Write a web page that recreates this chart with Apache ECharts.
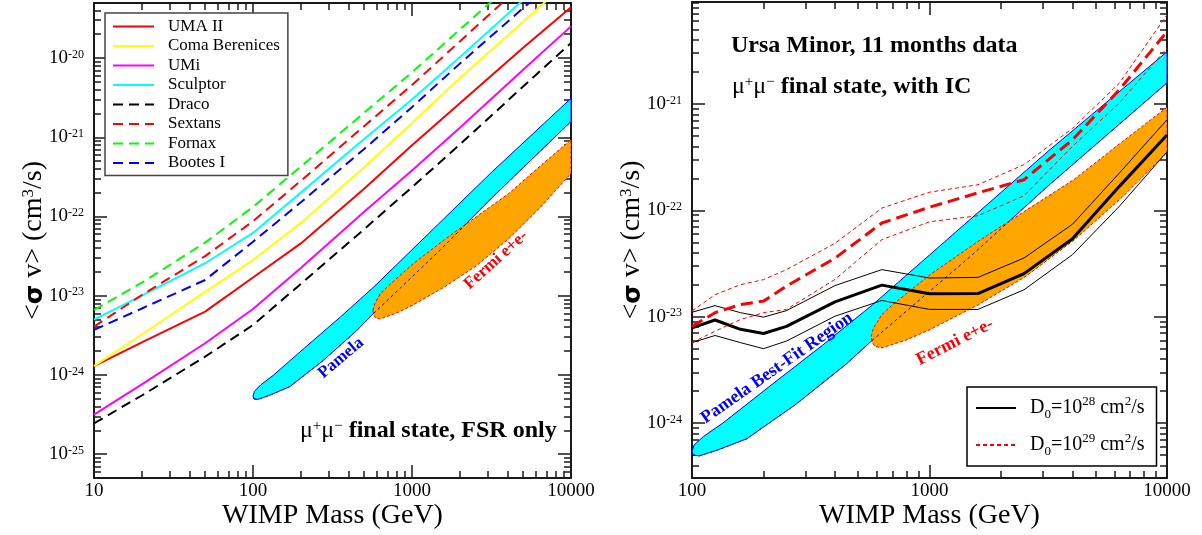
<!DOCTYPE html>
<html>
<head>
<meta charset="utf-8">
<title>WIMP annihilation limits</title>
<script src="https://cdn.jsdelivr.net/npm/echarts@6/dist/echarts.min.js"></script>
<style>
  html, body { margin: 0; padding: 0; background: #fff; }
  #chart { width: 1202px; height: 535px; }
</style>
</head>
<body>
<div id="chart"></div>
<script>
// ---- left panel: mu+mu- FSR only limits, <sigma v> in cm^3/s
var massL = [10, 20, 50, 100, 200, 500, 1000, 2000, 5000, 10000];
var umaII    = [1.29e-24, 2.57e-24, 6.3e-24, 1.70e-23, 4.57e-23, 2.24e-22, 7.9e-22, 2.69e-21, 1.35e-20, 4.37e-20];
var comaBer  = [1.29e-24, 3.24e-24, 1.12e-23, 2.82e-23, 8.3e-23, 4.17e-22, 1.51e-21, 5.6e-21, 2.88e-20, 1.0e-19];
var umi      = [3.16e-25, 7.6e-25, 2.51e-24, 6.8e-24, 2.24e-23, 1.15e-22, 3.8e-22, 1.32e-21, 7.1e-21, 2.51e-20];
var sculptor = [5.0e-24, 1.0e-23, 2.57e-23, 6.2e-23, 2.0e-22, 9.5e-22, 3.0e-21, 1.02e-20, 5.4e-20, 1.8e-19];
var draco    = [2.45e-25, 5.5e-25, 1.7e-24, 4.27e-24, 1.41e-23, 6.9e-23, 2.34e-22, 8.1e-22, 4.37e-21, 1.55e-20];
var sextans  = [4.07e-24, 1.02e-23, 3.16e-23, 8.7e-23, 2.82e-22, 1.38e-21, 4.57e-21, 1.62e-20, 8.7e-20, 3.2e-19];
var fornax   = [6.6e-24, 1.46e-23, 4.68e-23, 1.32e-22, 4.27e-22, 2.04e-21, 6.6e-21, 2.29e-20, 1.17e-19, 4.0e-19];
var bootesI  = [3.7e-24, 6.9e-24, 1.58e-23, 4.8e-23, 1.51e-22, 7.1e-22, 2.4e-21, 8.5e-21, 4.27e-20, 1.45e-19];

// ---- right panel: Ursa Minor, with IC
var massR = [100, 125, 160, 200, 250, 400, 630, 1000, 1600, 2500, 4000, 6300, 10000];
var d28   = [7.85e-24, 9.3e-24, 7.6e-24, 6.95e-24, 8.1e-24, 1.38e-23, 1.98e-23, 1.64e-23, 1.65e-23, 2.54e-23, 5.4e-23, 1.68e-22, 5.1e-22];
var d28Hi = [1.10e-23, 1.27e-23, 1.09e-23, 9.9e-24, 1.14e-23, 1.96e-23, 2.77e-23, 2.31e-23, 2.34e-23, 3.56e-23, 7.4e-23, 2.24e-22, 7.1e-22];
var d28Lo = [5.7e-24, 6.65e-24, 5.7e-24, 5.0e-24, 5.9e-24, 1.01e-23, 1.42e-23, 1.17e-23, 1.17e-23, 1.79e-23, 3.83e-23, 1.09e-22, 3.55e-22];
var d29   = [8.1e-24, 1.09e-23, 1.30e-23, 1.40e-23, 1.94e-23, 3.55e-23, 7.6e-23, 1.07e-22, 1.46e-22, 1.94e-22, 4.6e-22, 1.36e-21, 4.8e-21];
var d29Hi = [1.13e-23, 1.61e-23, 2.0e-23, 2.23e-23, 2.77e-23, 4.9e-23, 1.05e-22, 1.48e-22, 1.74e-22, 2.69e-22, 5.9e-22, 1.57e-21, 6.9e-21];
var d29Lo = [5.7e-24, 7.3e-24, 9.4e-24, 1.09e-23, 1.17e-23, 2.24e-23, 5.3e-23, 7.8e-23, 8.9e-23, 1.37e-22, 4.0e-22, 1.02e-21, 3.36e-21];

// ---- regions [mass, <sigma v>], edges listed left to right
var pamelaUpper = [[100, 5.4e-25], [102, 6.2e-25], [112, 7.5e-25], [135, 1.0e-24], [219, 2.34e-24], [355, 5.4e-24], [575, 1.29e-23], [1000, 3.8e-23], [3160, 3.6e-22], [10000, 3.1e-21]];
var pamelaLower = [[101, 5.0e-25], [107, 4.9e-25], [126, 5.5e-25], [170, 7.1e-25], [275, 1.51e-24], [447, 3.6e-24], [562, 5.75e-24], [1510, 3.8e-23], [3160, 1.7e-22], [10000, 1.58e-21]];
var fermiUpper = [[568, 6.5e-24], [582, 7.9e-24], [631, 1.05e-23], [697, 1.29e-23], [1010, 2.5e-23], [1600, 5.1e-23], [2550, 1.0e-22], [4060, 1.95e-22], [6460, 4.4e-22], [10000, 9.3e-22]];
var fermiLower = [[575, 5.7e-24], [589, 5.25e-24], [631, 5.1e-24], [794, 6.0e-24], [1010, 7.6e-24], [1600, 1.29e-23], [2550, 2.4e-23], [4060, 5.25e-23], [6460, 1.32e-22], [10000, 3.5e-22]];

// ---- axes
var xRangeL = [10, 10000], yRangeL = [5e-26, 4.95e-20];
var xRangeR = [100, 10000], yRangeR = [3.04e-25, 9.1e-21];
var xTicksL = [10, 100, 1000, 10000];
var yTicksL = [1e-25, 1e-24, 1e-23, 1e-22, 1e-21, 1e-20];
var xTicksR = [100, 1000, 10000];
var yTicksR = [1e-24, 1e-23, 1e-22, 1e-21];

var lg = Math.log10;
var serif = 'Liberation Serif';
var INK = '#1a1a1a';

function pts(mass, vals) {
  return mass.map(function (m, i) { return [lg(m), lg(vals[i])]; });
}
function pairs(list) {
  return list.map(function (p) { return [lg(p[0]), lg(p[1])]; });
}
function minorTicks(lo, hi) {
  var out = [];
  for (var n = Math.floor(lo) - 1; n <= Math.ceil(hi); n++) {
    for (var k = 2; k <= 9; k++) {
      var v = n + lg(k);
      if (v > lo && v < hi) out.push(v);
    }
  }
  return out;
}

var yNameRich = {
  b: { fontSize: 28, lineHeight: 28, verticalAlign: 'bottom', fontFamily: serif },
  g: { fontSize: 25, lineHeight: 28, verticalAlign: 'bottom', fontFamily: 'DejaVu Sans', fontWeight: 'bold' },
  p: { fontSize: 17, lineHeight: 17, padding: [0, 0, 28, 0], verticalAlign: 'top', fontFamily: serif }
};
var yLabRich = {
  b: { fontSize: 19, lineHeight: 19, verticalAlign: 'bottom', fontFamily: serif, color: '#000' },
  s: { fontSize: 12, lineHeight: 14, padding: [0, 0, 13, 0], verticalAlign: 'top', fontFamily: serif, color: '#000' }
};

// four axes per dimension: main side major+minor, opposite side major+minor
function axisSet(dim, gi, range, majors) {
  var lo = lg(range[0]), hi = lg(range[1]);
  var maj = majors.map(lg), mnr = minorTicks(lo, hi);
  var sides = dim === 'x' ? ['bottom', 'top'] : ['left', 'right'];
  var out = [];
  sides.forEach(function (pos, s) {
    [maj, mnr].forEach(function (vals, m) {
      var main = s === 0 && m === 0;
      var ax = {
        type: 'value', gridIndex: gi, position: pos, min: lo, max: hi,
        axisLine: { show: m === 0, onZero: false, lineStyle: { color: INK, width: 2 } },
        axisTick: { show: true, inside: true, customValues: vals, length: m === 0 ? 13 : 7,
          lineStyle: { color: INK, width: 1.5 } },
        axisLabel: { show: false },
        splitLine: { show: false }
      };
      if (main && dim === 'x') {
        ax.axisLabel = { show: true, customValues: maj, margin: 4, fontSize: 19, fontFamily: serif, color: '#000',
          formatter: function (v) { return String(Math.round(Math.pow(10, v))); } };
        ax.name = 'WIMP Mass (GeV)';
        ax.nameLocation = 'middle';
        ax.nameGap = 24;
        ax.nameMoveOverlap = false;
        ax.nameTextStyle = { fontSize: 28, fontFamily: serif, color: '#000' };
      }
      if (main && dim === 'y') {
        ax.axisLabel = { show: true, customValues: maj, margin: 10, rich: yLabRich,
          formatter: function (v) { return '{b|10}{s|' + Math.round(v) + '}'; } };
        ax.name = '{b|<}{g|σ}{b| v> (cm}{p|3}{b|/s)}';
        ax.nameLocation = 'middle';
        ax.nameRotate = 90;
        ax.nameGap = 46;
        ax.nameMoveOverlap = false;
        ax.nameTextStyle = { color: '#000', rich: yNameRich };
      }
      out.push(ax);
    });
  });
  return out;
}

function lineSeries(name, gi, mass, vals, color, width, dash, z) {
  return {
    type: 'line', name: name, xAxisIndex: 4 * gi, yAxisIndex: 4 * gi,
    data: pts(mass, vals), symbol: 'none', silent: true, z: z || 3,
    lineStyle: { color: color, width: width, type: dash || 'solid' },
    itemStyle: { color: color }
  };
}

function region(name, gi, upper, lower, fill, stroke, dash) {
  var ring = pairs(upper).concat(pairs(lower).reverse());
  return {
    type: 'custom', name: name, xAxisIndex: 4 * gi, yAxisIndex: 4 * gi,
    silent: true, z: 1, clip: true, data: [ring[0]],
    renderItem: function (params, api) {
      return {
        type: 'polygon',
        shape: { points: ring.map(function (p) { return api.coord(p); }) },
        style: { fill: fill, stroke: stroke, lineWidth: 1, lineDash: dash || null }
      };
    }
  };
}

var dash = [10, 6];
var series = [];
[0, 1].forEach(function (gi) {
  series.push(region('Pamela', gi, pamelaUpper, pamelaLower, '#00ffff', '#0000ff'));
  series.push(region('Fermi', gi, fermiUpper, fermiLower, '#ffa500', '#ff0000', [3, 2]));
  series.push(lineSeries('pamela edge', gi, pamelaLower.map(function (p) { return p[0]; }),
    pamelaLower.map(function (p) { return p[1]; }), '#0000ff', 1, [3, 3], 2));
});
series.push(
  lineSeries('UMA II', 0, massL, umaII, '#ff0000', 2),
  lineSeries('Coma Berenices', 0, massL, comaBer, '#ffff00', 2),
  lineSeries('UMi', 0, massL, umi, '#ff00ff', 2),
  lineSeries('Sculptor', 0, massL, sculptor, '#00ffff', 2),
  lineSeries('Draco', 0, massL, draco, '#000000', 2, dash),
  lineSeries('Sextans', 0, massL, sextans, '#ff0000', 2, dash),
  lineSeries('Fornax', 0, massL, fornax, '#00ff00', 2, dash),
  lineSeries('Bootes I', 0, massL, bootesI, '#0000ff', 2, dash),
  lineSeries('D28', 1, massR, d28Hi, '#000000', 1),
  lineSeries('D28', 1, massR, d28Lo, '#000000', 1),
  lineSeries('D28 mean', 1, massR, d28, '#000000', 3),
  lineSeries('D29', 1, massR, d29Hi, '#ff0000', 1, [4, 3]),
  lineSeries('D29', 1, massR, d29Lo, '#ff0000', 1, [4, 3]),
  lineSeries('D29 mean', 1, massR, d29, '#ff0000', 3, [12, 6])
);

var legendNames = { D28: 'D{sub|0}=10{sup|28} cm{sup|2}/s', D29: 'D{sub|0}=10{sup|29} cm{sup|2}/s' };
var muRich = {
  m: { fontSize: 24, lineHeight: 24, verticalAlign: 'bottom', fontFamily: serif, fill: '#000' },
  p: { fontSize: 15, lineHeight: 15, padding: [0, 0, 12, 0], verticalAlign: 'top', fontFamily: serif, fill: '#000' },
  b: { fontSize: 24, lineHeight: 24, verticalAlign: 'bottom', fontFamily: serif, fontWeight: 'bold', fill: '#000' }
};
function label(x, y, text, rot, color, size) {
  return { type: 'text', x: x, y: y, rotation: rot * Math.PI / 180, z: 50,
    style: { text: text, fill: color, font: 'bold ' + (size || 17) + 'px ' + serif, align: 'center', verticalAlign: 'middle' } };
}

var chart = echarts.init(document.getElementById('chart'));
chart.setOption({
  animation: false,
  textStyle: { fontFamily: serif },
  grid: [
    { left: 94, top: 3, width: 477, height: 475 },
    { left: 692, top: 2, width: 475, height: 477 }
  ],
  xAxis: axisSet('x', 0, xRangeL, xTicksL).concat(axisSet('x', 1, xRangeR, xTicksR)),
  yAxis: axisSet('y', 0, yRangeL, yTicksL).concat(axisSet('y', 1, yRangeR, yTicksR)),
  legend: [
    {
      data: ['UMA II', 'Coma Berenices', 'UMi', 'Sculptor', 'Draco', 'Sextans', 'Fornax', 'Bootes I'],
      orient: 'vertical', left: 105, top: 13, selectedMode: false,
      backgroundColor: '#fff', borderColor: '#444', borderWidth: 1.5, borderRadius: 0,
      padding: [5, 8, 4, 7], itemWidth: 41, itemHeight: 14, itemGap: 2.5,
      itemStyle: { opacity: 0 },
      textStyle: { fontFamily: serif, fontSize: 17, lineHeight: 17, color: '#000', padding: [0, 0, 0, 9] }
    },
    {
      data: ['D28', 'D29'],
      orient: 'vertical', left: 967, top: 387, selectedMode: false,
      backgroundColor: '#fff', borderColor: '#000', borderWidth: 1.5, borderRadius: 0,
      padding: [8, 12, 8, 8], itemWidth: 40, itemHeight: 14, itemGap: 11,
      itemStyle: { opacity: 0 },
      formatter: function (n) { return legendNames[n]; },
      textStyle: { fontFamily: serif, fontSize: 20, lineHeight: 26, color: '#000', padding: [0, 0, 0, 9],
        rich: {
          sup: { fontSize: 13, lineHeight: 12, verticalAlign: 'top', fontFamily: serif },
          sub: { fontSize: 13, lineHeight: 12, verticalAlign: 'bottom', fontFamily: serif }
        } }
    }
  ],
  graphic: [
    { type: 'text', x: 300, y: 431, z: 50,
      style: { text: '{m|μ}{p|+}{m|μ}{p|−}{b| final state, FSR only}', rich: muRich, align: 'left', verticalAlign: 'middle' } },
    { type: 'text', x: 731, y: 46, z: 50,
      style: { text: 'Ursa Minor, 11 months data', fill: '#000', font: 'bold 24px ' + serif, align: 'left', verticalAlign: 'middle' } },
    { type: 'text', x: 732, y: 87, z: 50,
      style: { text: '{m|μ}{p|+}{m|μ}{p|−}{b| final state, with IC}', rich: muRich, align: 'left', verticalAlign: 'middle' } },
    label(341, 358, 'Pamela', 40, '#0000ff'),
    label(496, 260, 'Fermi e+e-', 42, '#ff0000'),
    label(777, 368, 'Pamela Best-Fit Region', 35, '#0000ff', 18),
    label(955, 342, 'Fermi e+e-', 27, '#ff0000', 18)
  ],
  series: series
});
</script>
</body>
</html>
